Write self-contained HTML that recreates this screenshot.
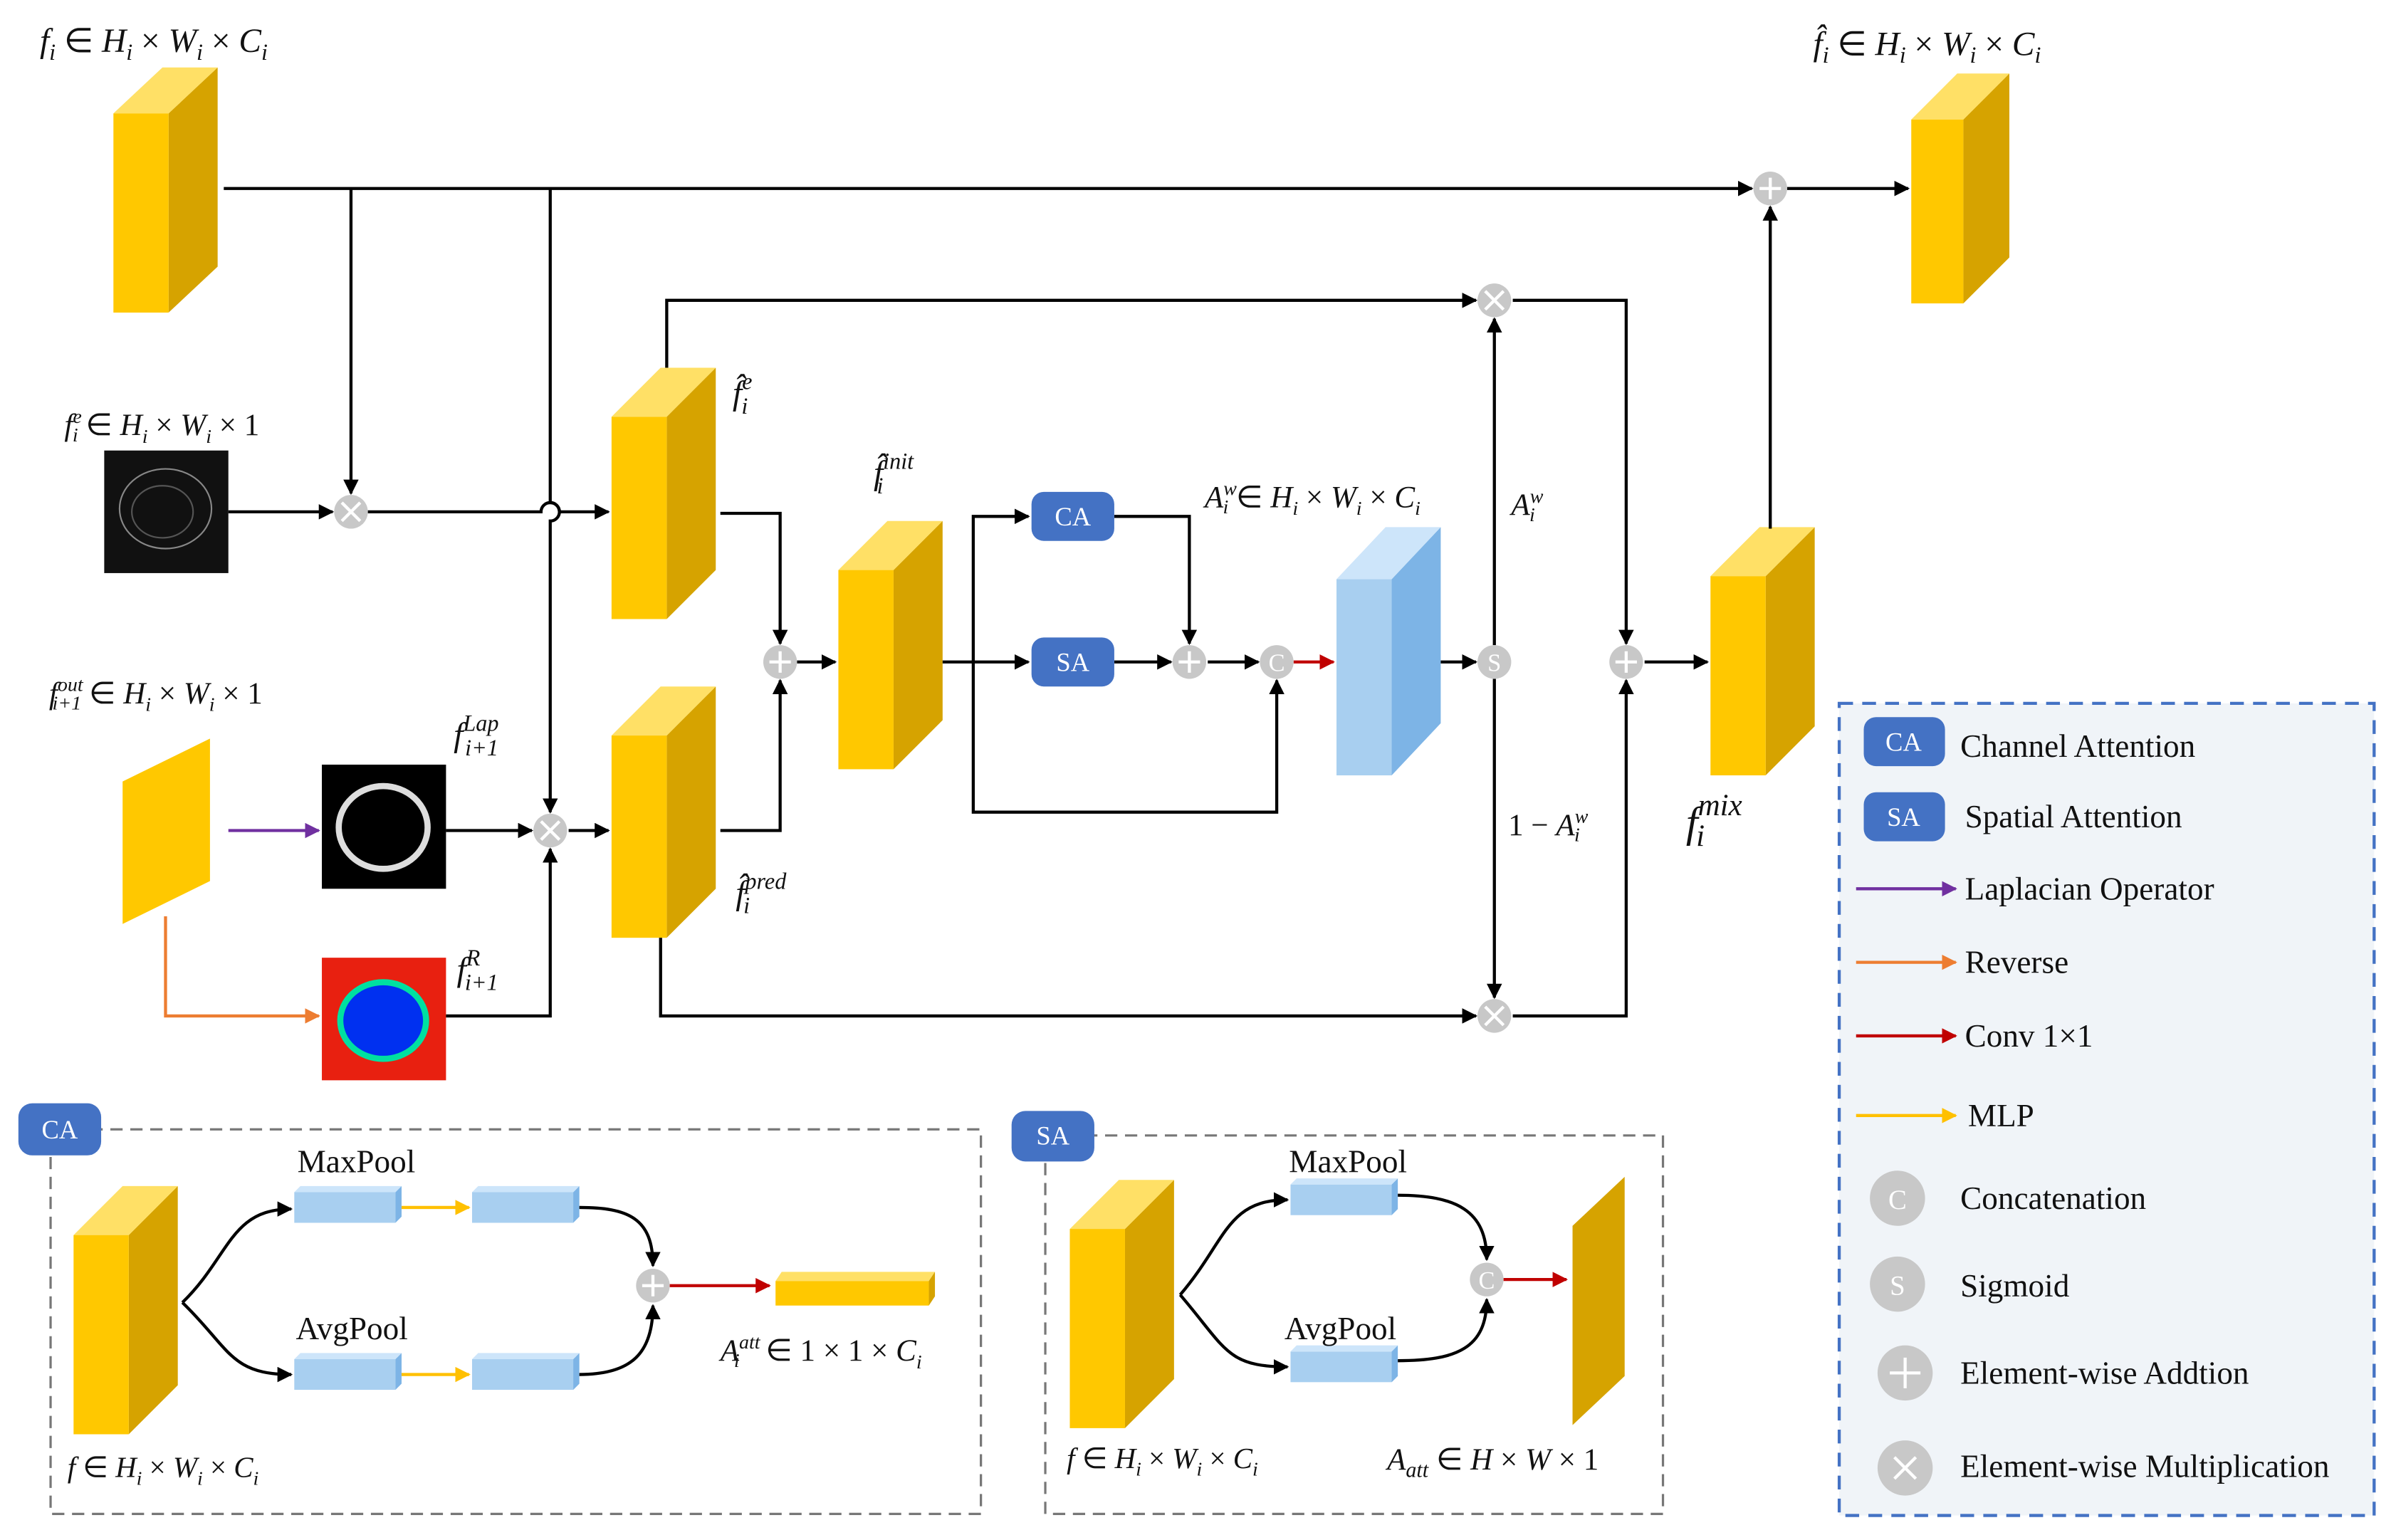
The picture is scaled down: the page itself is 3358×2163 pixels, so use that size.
<!DOCTYPE html>
<html><head><meta charset="utf-8"><style>
html,body{margin:0;padding:0;background:#fff;}
svg{display:block;}
text{font-family:"Liberation Serif",serif;fill:#111;}
.m{font-style:italic;}
.c{fill:#c8c8c8;}
</style></head><body>
<svg width="3358" height="2163" viewBox="0 0 1560 1005" preserveAspectRatio="none" xmlns="http://www.w3.org/2000/svg">
<defs>
<marker id="ak" markerWidth="10" markerHeight="10" refX="9" refY="5" orient="auto" markerUnits="userSpaceOnUse"><path d="M0,0 L10,5 L0,10 z" fill="#000"/></marker>
<marker id="ap" markerWidth="10" markerHeight="10" refX="9" refY="5" orient="auto" markerUnits="userSpaceOnUse"><path d="M0,0 L10,5 L0,10 z" fill="#7030A0"/></marker>
<marker id="ao" markerWidth="10" markerHeight="10" refX="9" refY="5" orient="auto" markerUnits="userSpaceOnUse"><path d="M0,0 L10,5 L0,10 z" fill="#ED7D31"/></marker>
<marker id="ar" markerWidth="10" markerHeight="10" refX="9" refY="5" orient="auto" markerUnits="userSpaceOnUse"><path d="M0,0 L10,5 L0,10 z" fill="#C00000"/></marker>
<marker id="ay" markerWidth="10" markerHeight="10" refX="9" refY="5" orient="auto" markerUnits="userSpaceOnUse"><path d="M0,0 L10,5 L0,10 z" fill="#FFC000"/></marker>
<radialGradient id="rg" cx="50%" cy="50%" r="60%"><stop offset="0" stop-color="#0010d0"/><stop offset="0.55" stop-color="#0030ff"/><stop offset="0.62" stop-color="#00e0a0"/><stop offset="0.7" stop-color="#ff2000"/><stop offset="1" stop-color="#e82010"/></radialGradient>
</defs>

<!-- yellow blocks: front, top, side -->
<g stroke="none">
<!-- f_i -->
<polygon points="110,74 142,44 142,174 110,204" fill="#D6A300"/><polygon points="74,74 106,44 142,44 110,74" fill="#FFE066"/><rect x="74" y="74" width="36" height="130" fill="#FFC800"/>
<!-- out -->
<polygon points="1281,78 1311,48 1311,168 1281,198" fill="#D6A300"/><polygon points="1247,78 1277,48 1311,48 1281,78" fill="#FFE066"/><rect x="1247" y="78" width="34" height="120" fill="#FFC800"/>
<!-- f_e -->
<polygon points="435,272 467,240 467,372 435,404" fill="#D6A300"/><polygon points="399,272 431,240 467,240 435,272" fill="#FFE066"/><rect x="399" y="272" width="36" height="132" fill="#FFC800"/>
<!-- f_pred -->
<polygon points="435,480 467,448 467,580 435,612" fill="#D6A300"/><polygon points="399,480 431,448 467,448 435,480" fill="#FFE066"/><rect x="399" y="480" width="36" height="132" fill="#FFC800"/>
<!-- f_init -->
<polygon points="583,372 615,340 615,470 583,502" fill="#D6A300"/><polygon points="547,372 579,340 615,340 583,372" fill="#FFE066"/><rect x="547" y="372" width="36" height="130" fill="#FFC800"/>
<!-- f_mix -->
<polygon points="1152,376 1184,344 1184,474 1152,506" fill="#D6A300"/><polygon points="1116,376 1148,344 1184,344 1152,376" fill="#FFE066"/><rect x="1116" y="376" width="36" height="130" fill="#FFC800"/>
<!-- blue -->
<polygon points="908,378 940,344 940,472 908,506" fill="#7DB4E6"/><polygon points="872,378 904,344 940,344 908,378" fill="#CDE5FA"/><rect x="872" y="378" width="36" height="128" fill="#A8CFF0"/>
<!-- f_out parallelogram -->
<polygon points="80,510 137,482 137,575 80,603" fill="#FFC800"/>
</g>

<!-- images -->
<rect x="68" y="294" width="81" height="80" fill="#111"/>
<ellipse cx="108" cy="332" rx="30" ry="26" fill="none" stroke="#888" stroke-width="1"/>
<ellipse cx="106" cy="334" rx="20" ry="17" fill="none" stroke="#555" stroke-width="1"/>
<rect x="210" y="499" width="81" height="81" fill="#000"/>
<ellipse cx="250" cy="540" rx="29" ry="27" fill="none" stroke="#ddd" stroke-width="4"/>
<rect x="210" y="625" width="81" height="80" fill="#e82010"/>
<ellipse cx="250" cy="666" rx="30" ry="27" fill="#00e0a0"/>
<ellipse cx="250" cy="666" rx="26" ry="23" fill="#0030f0"/>

<!-- lines black -->
<g stroke="#000" stroke-width="2" fill="none">
<line x1="146" y1="123" x2="1143" y2="123" marker-end="url(#ak)"/>
<line x1="1166" y1="123" x2="1245" y2="123" marker-end="url(#ak)"/>
<line x1="229" y1="123" x2="229" y2="322" marker-end="url(#ak)"/>
<path d="M359,123 V328 A6,6 0 0 1 359,340 V530" marker-end="url(#ak)"/>
<line x1="149" y1="334" x2="217" y2="334" marker-end="url(#ak)"/>
<path d="M240,334 H353 A6,6 0 0 1 365,334 H397" marker-end="url(#ak)"/>
<path d="M470,335 H509 V420" marker-end="url(#ak)"/>
<path d="M470,542 H509 V444" marker-end="url(#ak)"/>
<line x1="520" y1="432" x2="545" y2="432" marker-end="url(#ak)"/>
<path d="M435,240 V196 H963" marker-end="url(#ak)"/>
<path d="M431,612 V663 H963" marker-end="url(#ak)"/>
<path d="M615,432 H671" marker-end="url(#ak)"/>
<path d="M635,432 V337 H671" marker-end="url(#ak)"/>
<path d="M635,432 V530 H833 V444" marker-end="url(#ak)"/>
<path d="M727,337 H776 V420" marker-end="url(#ak)"/>
<line x1="727" y1="432" x2="764" y2="432" marker-end="url(#ak)"/>
<line x1="788" y1="432" x2="821" y2="432" marker-end="url(#ak)"/>
<line x1="940" y1="432" x2="963" y2="432" marker-end="url(#ak)"/>
<line x1="975" y1="421" x2="975" y2="208" marker-end="url(#ak)"/>
<line x1="975" y1="443" x2="975" y2="651" marker-end="url(#ak)"/>
<path d="M987,196 H1061 V420" marker-end="url(#ak)"/>
<path d="M987,663 H1061 V444" marker-end="url(#ak)"/>
<line x1="1073" y1="432" x2="1114" y2="432" marker-end="url(#ak)"/>
<line x1="1155" y1="345" x2="1155" y2="135" marker-end="url(#ak)"/>
<line x1="291" y1="542" x2="347" y2="542" marker-end="url(#ak)"/>
<path d="M291,663 H359 V554" marker-end="url(#ak)"/>
<line x1="371" y1="542" x2="397" y2="542" marker-end="url(#ak)"/>
</g>
<line x1="149" y1="542" x2="208" y2="542" stroke="#7030A0" stroke-width="2" marker-end="url(#ap)"/>
<path d="M108,598 V663 H208" stroke="#ED7D31" stroke-width="2" fill="none" marker-end="url(#ao)"/>
<line x1="844" y1="432" x2="870" y2="432" stroke="#C00000" stroke-width="2" marker-end="url(#ar)"/>

<!-- CA / SA boxes -->
<rect x="673" y="321" width="54" height="32" rx="8" fill="#4472C4"/>
<text x="700" y="343" text-anchor="middle" font-size="17" style="fill:#fff">CA</text>
<rect x="673" y="416" width="54" height="32" rx="8" fill="#4472C4"/>
<text x="700" y="438" text-anchor="middle" font-size="17" style="fill:#fff">SA</text>

<!-- circles -->
<g font-size="16" text-anchor="middle">
<g class="c"><circle cx="229" cy="334" r="11"/><circle cx="359" cy="542" r="11"/><circle cx="975" cy="196" r="11"/><circle cx="975" cy="663" r="11"/>
<circle cx="1155" cy="123" r="11"/><circle cx="509" cy="432" r="11"/><circle cx="776" cy="432" r="11"/><circle cx="1061" cy="432" r="11"/><circle cx="426" cy="839" r="11"/>
<circle cx="833" cy="432" r="11"/><circle cx="970" cy="835" r="11"/><circle cx="975" cy="432" r="11"/></g>
<g stroke="#fff" stroke-width="2">
<path d="M223,328 L235,340 M235,328 L223,340"/><path d="M353,536 L365,548 M365,536 L353,548"/>
<path d="M969,190 L981,202 M981,190 L969,202"/><path d="M969,657 L981,669 M981,657 L969,669"/>
<path d="M1148,123 H1162 M1155,116 V130"/><path d="M502,432 H516 M509,425 V439"/><path d="M769,432 H783 M776,425 V439"/>
<path d="M1054,432 H1068 M1061,425 V439"/><path d="M419,839 H433 M426,832 V846"/>
</g>
<text x="833" y="438" style="fill:#fff">C</text><text x="970" y="841" style="fill:#fff">C</text><text x="975" y="438" style="fill:#fff">S</text>
</g>

<!-- labels -->
<g font-size="22">
<text x="26" y="34"><tspan class="m">f</tspan><tspan font-size="15" dy="5" class="m">i</tspan><tspan dy="-5"> ∈ </tspan><tspan class="m">H</tspan><tspan font-size="15" dy="5" class="m">i</tspan><tspan dy="-5"> × </tspan><tspan class="m">W</tspan><tspan font-size="15" dy="5" class="m">i</tspan><tspan dy="-5"> × </tspan><tspan class="m">C</tspan><tspan font-size="15" dy="5" class="m">i</tspan></text>
<text x="1183" y="36"><tspan class="m">f̂</tspan><tspan font-size="15" dy="5" class="m">i</tspan><tspan dy="-5"> ∈ </tspan><tspan class="m">H</tspan><tspan font-size="15" dy="5" class="m">i</tspan><tspan dy="-5"> × </tspan><tspan class="m">W</tspan><tspan font-size="15" dy="5" class="m">i</tspan><tspan dy="-5"> × </tspan><tspan class="m">C</tspan><tspan font-size="15" dy="5" class="m">i</tspan></text>
<text x="42" y="284" font-size="20"><tspan class="m">f</tspan><tspan font-size="13" dy="-8" class="m">e</tspan><tspan font-size="13" dx="-6" dy="12" class="m">i</tspan><tspan dy="-4"> ∈ </tspan><tspan class="m">H</tspan><tspan font-size="13" dy="5" class="m">i</tspan><tspan dy="-5"> × </tspan><tspan class="m">W</tspan><tspan font-size="13" dy="5" class="m">i</tspan><tspan dy="-5"> × 1</tspan></text>
<text x="32" y="459" font-size="20"><tspan class="m">f</tspan><tspan font-size="13" dy="-8" class="m">out</tspan><tspan font-size="13" dx="-20" dy="12" class="m">i+1</tspan><tspan dy="-4"> ∈ </tspan><tspan class="m">H</tspan><tspan font-size="13" dy="5" class="m">i</tspan><tspan dy="-5"> × </tspan><tspan class="m">W</tspan><tspan font-size="13" dy="5" class="m">i</tspan><tspan dy="-5"> × 1</tspan></text>
<text x="478" y="264"><tspan class="m">f̂</tspan><tspan font-size="15" dy="-10" class="m">e</tspan><tspan font-size="15" dx="-7" dy="16" class="m">i</tspan></text>
<text x="570" y="316"><tspan class="m">f̂</tspan><tspan font-size="15" dy="-10" class="m">init</tspan><tspan font-size="15" dx="-24" dy="16" class="m">i</tspan></text>
<text x="296" y="487"><tspan class="m">f</tspan><tspan font-size="15" dy="-10" class="m">Lap</tspan><tspan font-size="15" dx="-22" dy="16" class="m">i+1</tspan></text>
<text x="480" y="590"><tspan class="m">f̂</tspan><tspan font-size="15" dy="-10" class="m">pred</tspan><tspan font-size="15" dx="-28" dy="16" class="m">i</tspan></text>
<text x="298" y="640"><tspan class="m">f</tspan><tspan font-size="15" dy="-10" class="m">R</tspan><tspan font-size="15" dx="-10" dy="16" class="m">i+1</tspan></text>
<text x="786" y="331" font-size="20"><tspan class="m">A</tspan><tspan font-size="13" dy="-8" class="m">w</tspan><tspan font-size="13" dx="-9" dy="12" class="m">i</tspan><tspan dy="-4"> ∈ </tspan><tspan class="m">H</tspan><tspan font-size="13" dy="5" class="m">i</tspan><tspan dy="-5"> × </tspan><tspan class="m">W</tspan><tspan font-size="13" dy="5" class="m">i</tspan><tspan dy="-5"> × </tspan><tspan class="m">C</tspan><tspan font-size="13" dy="5" class="m">i</tspan></text>
<text x="986" y="336" font-size="20"><tspan class="m">A</tspan><tspan font-size="13" dy="-8" class="m">w</tspan><tspan font-size="13" dx="-9" dy="12" class="m">i</tspan></text>
<text x="984" y="545" font-size="20">1 − <tspan class="m">A</tspan><tspan font-size="13" dy="-8" class="m">w</tspan><tspan font-size="13" dx="-9" dy="12" class="m">i</tspan></text>
<text x="1100" y="546" font-size="28"><tspan class="m">f</tspan><tspan font-size="20" dy="-14" class="m">mix</tspan><tspan font-size="20" dx="-30" dy="20" class="m">i</tspan></text>
</g>

<!-- CA panel -->
<rect x="33" y="737" width="607" height="251" fill="none" stroke="#777" stroke-width="1.5" stroke-dasharray="8,5"/>
<rect x="12" y="720" width="54" height="34" rx="9" fill="#4472C4"/>
<text x="39" y="743" text-anchor="middle" font-size="17" style="fill:#fff">CA</text>
<polygon points="84,806 116,774 116,904 84,936" fill="#D6A300"/><polygon points="48,806 80,774 116,774 84,806" fill="#FFE066"/><rect x="48" y="806" width="36" height="130" fill="#FFC800"/>
<g fill="#A8CFF0">
<rect x="192" y="778" width="66" height="20"/><rect x="308" y="778" width="66" height="20"/><rect x="192" y="887" width="66" height="20"/><rect x="308" y="887" width="66" height="20"/>
<rect x="842" y="773" width="66" height="20"/><rect x="842" y="882" width="66" height="20"/>
</g>
<g fill="#7DB4E6">
<polygon points="258,778 262,774 262,794 258,798"/><polygon points="374,778 378,774 378,794 374,798"/><polygon points="258,887 262,883 262,903 258,907"/><polygon points="374,887 378,883 378,903 374,907"/>
<polygon points="908,773 912,769 912,789 908,793"/><polygon points="908,882 912,878 912,898 908,902"/>
</g>
<g fill="#CDE5FA">
<polygon points="192,778 196,774 262,774 258,778"/><polygon points="308,778 312,774 378,774 374,778"/><polygon points="192,887 196,883 262,883 258,887"/><polygon points="308,887 312,883 378,883 374,887"/>
<polygon points="842,773 846,769 912,769 908,773"/><polygon points="842,882 846,878 912,878 908,882"/>
</g>
<g stroke="#000" stroke-width="2" fill="none">
<path d="M119,850 C150,820 150,789 190,789" marker-end="url(#ak)"/>
<path d="M119,850 C150,880 150,897 190,897" marker-end="url(#ak)"/>
<path d="M378,788 C410,788 426,795 426,826" marker-end="url(#ak)"/>
<path d="M378,897 C410,897 426,885 426,852" marker-end="url(#ak)"/>
<path d="M770,845 C800,810 800,783 840,783" marker-end="url(#ak)"/>
<path d="M770,845 C800,880 800,892 840,892" marker-end="url(#ak)"/>
<path d="M912,780 C950,780 970,790 970,822" marker-end="url(#ak)"/>
<path d="M912,888 C950,888 970,880 970,848" marker-end="url(#ak)"/>
</g>
<line x1="262" y1="788" x2="306" y2="788" stroke="#FFC000" stroke-width="2" marker-end="url(#ay)"/>
<line x1="262" y1="897" x2="306" y2="897" stroke="#FFC000" stroke-width="2" marker-end="url(#ay)"/>
<line x1="437" y1="839" x2="502" y2="839" stroke="#C00000" stroke-width="2" marker-end="url(#ar)"/>
<polygon points="506,836 510,830 610,830 606,836" fill="#FFE066"/><polygon points="606,836 610,830 610,846 606,852" fill="#D6A300"/><rect x="506" y="836" width="100" height="16" fill="#FFC800"/>
<text x="194" y="765" font-size="21">MaxPool</text>
<text x="193" y="874" font-size="21">AvgPool</text>
<text x="470" y="888" font-size="20"><tspan class="m">A</tspan><tspan font-size="13" dy="-8" class="m">att</tspan><tspan font-size="13" dx="-17" dy="12" class="m">i</tspan><tspan dx="12" dy="-4"> ∈ 1 × 1 × </tspan><tspan class="m">C</tspan><tspan font-size="13" dy="5" class="m">i</tspan></text>
<text x="44" y="964" font-size="19"><tspan class="m">f</tspan> ∈ <tspan class="m">H</tspan><tspan font-size="13" dy="5" class="m">i</tspan><tspan dy="-5"> × </tspan><tspan class="m">W</tspan><tspan font-size="13" dy="5" class="m">i</tspan><tspan dy="-5"> × </tspan><tspan class="m">C</tspan><tspan font-size="13" dy="5" class="m">i</tspan></text>

<!-- SA panel -->
<rect x="682" y="741" width="403" height="247" fill="none" stroke="#777" stroke-width="1.5" stroke-dasharray="8,5"/>
<rect x="660" y="725" width="54" height="33" rx="9" fill="#4472C4"/>
<text x="687" y="747" text-anchor="middle" font-size="17" style="fill:#fff">SA</text>
<polygon points="734,802 766,770 766,900 734,932" fill="#D6A300"/><polygon points="698,802 730,770 766,770 734,802" fill="#FFE066"/><rect x="698" y="802" width="36" height="130" fill="#FFC800"/>
<line x1="981" y1="835" x2="1022" y2="835" stroke="#C00000" stroke-width="2" marker-end="url(#ar)"/>
<polygon points="1026,800 1060,768 1060,898 1026,930" fill="#D6A300"/>
<text x="841" y="765" font-size="21">MaxPool</text>
<text x="838" y="874" font-size="21">AvgPool</text>
<text x="696" y="958" font-size="19"><tspan class="m">f</tspan> ∈ <tspan class="m">H</tspan><tspan font-size="13" dy="5" class="m">i</tspan><tspan dy="-5"> × </tspan><tspan class="m">W</tspan><tspan font-size="13" dy="5" class="m">i</tspan><tspan dy="-5"> × </tspan><tspan class="m">C</tspan><tspan font-size="13" dy="5" class="m">i</tspan></text>
<text x="905" y="959" font-size="20"><tspan class="m">A</tspan><tspan font-size="14" dy="5" class="m">att</tspan><tspan dy="-5"> ∈ </tspan><tspan class="m">H</tspan> × <tspan class="m">W</tspan> × 1</text>

<!-- legend -->
<rect x="1200" y="459" width="349" height="530" fill="#F0F4F8" stroke="#4472C4" stroke-width="2" stroke-dasharray="9,6"/>
<rect x="1216" y="468" width="53" height="32" rx="8" fill="#4472C4"/>
<text x="1242" y="490" text-anchor="middle" font-size="17" style="fill:#fff">CA</text>
<rect x="1216" y="517" width="53" height="32" rx="8" fill="#4472C4"/>
<text x="1242" y="539" text-anchor="middle" font-size="17" style="fill:#fff">SA</text>
<line x1="1211" y1="580" x2="1276" y2="580" stroke="#7030A0" stroke-width="2" marker-end="url(#ap)"/>
<line x1="1211" y1="628" x2="1276" y2="628" stroke="#ED7D31" stroke-width="2" marker-end="url(#ao)"/>
<line x1="1211" y1="676" x2="1276" y2="676" stroke="#C00000" stroke-width="2" marker-end="url(#ar)"/>
<line x1="1211" y1="728" x2="1276" y2="728" stroke="#FFC000" stroke-width="2" marker-end="url(#ay)"/>
<g class="c"><circle cx="1238" cy="782" r="18"/><circle cx="1238" cy="838" r="18"/><circle cx="1243" cy="896" r="18"/><circle cx="1243" cy="958" r="18"/></g>
<text x="1238" y="789" text-anchor="middle" font-size="18" style="fill:#fff">C</text>
<text x="1238" y="845" text-anchor="middle" font-size="18" style="fill:#fff">S</text>
<path d="M1233,896 H1253 M1243,886 V906 M1236,951 L1250,965 M1250,951 L1236,965" stroke="#fff" stroke-width="2"/>
<g font-size="21">
<text x="1279" y="494">Channel Attention</text>
<text x="1282" y="540">Spatial Attention</text>
<text x="1282" y="587">Laplacian Operator</text>
<text x="1282" y="635">Reverse</text>
<text x="1282" y="683">Conv 1×1</text>
<text x="1284" y="735">MLP</text>
<text x="1279" y="789">Concatenation</text>
<text x="1279" y="846">Sigmoid</text>
<text x="1279" y="903">Element-wise Addtion</text>
<text x="1279" y="964">Element-wise Multiplication</text>
</g>
</svg>
</body></html>
